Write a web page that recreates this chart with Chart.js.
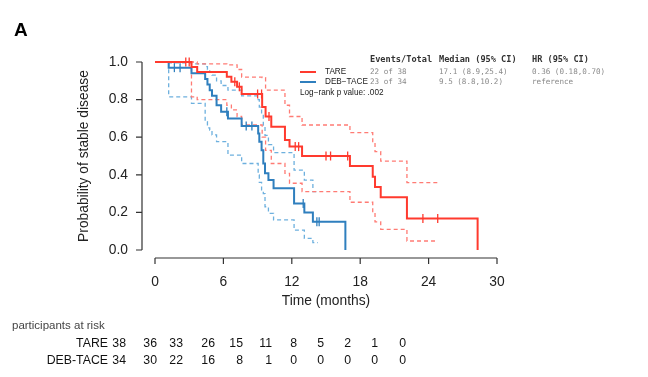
<!DOCTYPE html>
<html>
<head>
<meta charset="utf-8">
<script src="https://cdn.jsdelivr.net/npm/chart.js@4.4.1/dist/chart.umd.min.js"></script>
<style>
  html, body { margin: 0; padding: 0; background: #fff; }
  canvas { display: block; }
</style>
</head>
<body>
<canvas id="km" width="648" height="377"></canvas>
<script>
// Kaplan-Meier estimates (time in months)
const tareTime = [0, 3.2, 3.7, 6.3, 6.7, 7.2, 7.6, 9.4, 9.7, 10.2, 11.4, 11.8, 12.9, 17.1, 19.1, 19.3, 19.8, 22.1, 28.3];
const tareSurv = [1, 0.974, 0.947, 0.921, 0.895, 0.868, 0.83, 0.76, 0.71, 0.655, 0.585, 0.55, 0.5, 0.447, 0.39, 0.335, 0.28, 0.167, 0];
const tareCiTime = [0, 3.2, 3.7, 6.3, 6.7, 7.2, 7.6, 9.4, 9.7, 10.2, 11.4, 11.8, 12.9, 17.1, 19.1, 19.3, 19.8, 22.1, 24.8];
const tareUpper = [1, 1, 0.99, 0.985, 0.985, 0.96, 0.92, 0.917, 0.85, 0.85, 0.77, 0.71, 0.665, 0.624, 0.576, 0.523, 0.473, 0.358, 0.358];
const tareLower = [1, 0.815, 0.80, 0.77, 0.745, 0.71, 0.665, 0.60, 0.53, 0.46, 0.408, 0.355, 0.31, 0.254, 0.204, 0.15, 0.11, 0.048, 0.048];
const tareCensor = [2.7, 3.0, 7.0, 7.4, 9.0, 9.35, 10.0, 12.3, 12.6, 15.0, 15.4, 16.9, 23.5, 24.8];

const debTime = [0, 1.2, 3.2, 4.4, 4.6, 4.8, 5.0, 5.4, 5.8, 6.4, 7.6, 9.05, 9.15, 9.35, 9.5, 9.65, 9.95, 10.4, 12.2, 13.1, 13.85, 16.7];
const debSurv = [1, 0.97, 0.94, 0.91, 0.88, 0.85, 0.82, 0.77, 0.735, 0.70, 0.66, 0.62, 0.576, 0.53, 0.46, 0.408, 0.372, 0.328, 0.248, 0.2, 0.15, 0];
const debCiTime = [0, 1.2, 3.2, 4.4, 4.6, 4.8, 5.0, 5.4, 5.8, 6.4, 7.6, 9.05, 9.15, 9.35, 9.5, 9.65, 9.95, 10.4, 12.2, 13.1, 13.85, 14.3];
const debUpper = [1, 0.995, 0.99, 0.975, 0.96, 0.945, 0.93, 0.9, 0.875, 0.85, 0.82, 0.80, 0.76, 0.72, 0.66, 0.61, 0.56, 0.518, 0.425, 0.372, 0.31, 0.31];
const debLower = [1, 0.815, 0.78, 0.683, 0.65, 0.638, 0.612, 0.576, 0.576, 0.505, 0.46, 0.40, 0.36, 0.32, 0.30, 0.23, 0.195, 0.16, 0.106, 0.062, 0.039, 0.039];
const debCensor = [1.7, 2.2, 6.3, 8.0, 8.5, 13.0, 14.2, 14.4];

const xTicks = [0, 6, 12, 18, 24, 30];
const yTicks = [0, 0.2, 0.4, 0.6, 0.8, 1.0];

const riskTimes = [0, 3, 6, 9, 12, 15, 18, 21, 24, 27, 30];
const riskTare = [38, 36, 33, 26, 15, 11, 8, 5, 2, 1, 0];
const riskDeb = [34, 30, 22, 16, 8, 1, 0, 0, 0, 0, 0];

// right edge of each at-risk column, as typeset in the figure
const riskColX = [126, 157, 183, 215, 243, 272, 297, 324, 351, 378, 406];

const RED = '#ff3a2e';
const RED_CI = '#ff7b74';
const BLUE = '#2f7fbe';
const BLUE_CI = '#6db0de';

function pts(t, s) {
  return t.map((v, i) => ({ x: v, y: s[i] }));
}

function stepAt(t, s, x) {
  let v = s[0];
  for (let i = 0; i < t.length; i++) {
    if (t[i] <= x) v = s[i];
  }
  return v;
}

function censorPts(c, t, s) {
  return c.map(x => ({ x: x, y: stepAt(t, s, x) }));
}

function stepLine(data, color, width, dash, order) {
  return {
    type: 'line',
    data: data,
    borderColor: color,
    borderWidth: width,
    borderDash: dash,
    stepped: true,
    pointRadius: 0,
    fill: false,
    clip: false,
    order: order
  };
}

function censorSet(data, color) {
  return {
    type: 'scatter',
    data: data,
    pointStyle: 'line',
    rotation: 90,
    pointRadius: 4.5,
    borderColor: color,
    borderWidth: 1.3,
    clip: false,
    order: 0
  };
}

const decor = {
  id: 'decor',
  afterDraw(chart) {
    const ctx = chart.ctx;
    const xs = chart.scales.x;
    const ys = chart.scales.y;
    const axX = xs.left - 13;
    const axY = ys.bottom + 8;
    ctx.save();

    // R style axes
    ctx.strokeStyle = '#333';
    ctx.lineWidth = 1.2;
    ctx.beginPath();
    ctx.moveTo(axX, ys.getPixelForValue(0));
    ctx.lineTo(axX, ys.getPixelForValue(1));
    ctx.moveTo(xs.getPixelForValue(0), axY);
    ctx.lineTo(xs.getPixelForValue(30), axY);
    yTicks.forEach(v => {
      const y = ys.getPixelForValue(v);
      ctx.moveTo(axX, y);
      ctx.lineTo(axX - 6, y);
    });
    xTicks.forEach(v => {
      const x = xs.getPixelForValue(v);
      ctx.moveTo(x, axY);
      ctx.lineTo(x, axY + 6);
    });
    ctx.stroke();

    ctx.fillStyle = '#222';
    ctx.font = "13.8px 'Liberation Sans', Arial, sans-serif";
    ctx.textAlign = 'right';
    ctx.textBaseline = 'middle';
    yTicks.forEach(v => ctx.fillText(v.toFixed(1), axX - 14, ys.getPixelForValue(v)));
    ctx.textAlign = 'center';
    xTicks.forEach(v => ctx.fillText(String(v), xs.getPixelForValue(v), axY + 24));
    ctx.fillText('Time (months)', (xs.left + xs.right) / 2, axY + 43);

    ctx.save();
    ctx.translate(84, (ys.top + ys.bottom) / 2);
    ctx.rotate(-Math.PI / 2);
    ctx.fillText('Probability of stable disease', 0, 0);
    ctx.restore();

    // panel letter
    ctx.font = "bold 19px 'Liberation Sans', Arial, sans-serif";
    ctx.textAlign = 'left';
    ctx.fillStyle = '#000';
    ctx.fillText('A', 14, 31);

    // legend inside the plot
    ctx.lineWidth = 2;
    ctx.setLineDash([]);
    ctx.strokeStyle = RED;
    ctx.beginPath(); ctx.moveTo(300, 72); ctx.lineTo(316, 72); ctx.stroke();
    ctx.strokeStyle = BLUE;
    ctx.beginPath(); ctx.moveTo(300, 82); ctx.lineTo(316, 82); ctx.stroke();
    ctx.fillStyle = '#222';
    ctx.font = "8.2px 'Liberation Sans', Arial, sans-serif";
    ctx.fillText('TARE', 325, 72);
    ctx.fillText('DEB\u2212TACE', 325, 82);
    ctx.fillText('Log\u2212rank p value: .002', 300, 93);

    // summary table
    ctx.font = "bold 8.6px 'DejaVu Sans Mono', monospace";
    ctx.fillStyle = '#333';
    ctx.fillText('Events/Total', 370, 60);
    ctx.fillText('Median (95% CI)', 439, 60);
    ctx.fillText('HR (95% CI)', 532, 60);
    ctx.font = "7.6px 'DejaVu Sans Mono', monospace";
    ctx.fillStyle = '#8a8a8a';
    ctx.fillText('22 of 38', 370, 72);
    ctx.fillText('17.1 (8.9,25.4)', 439, 72);
    ctx.fillText('0.36 (0.18,0.70)', 532, 72);
    ctx.fillText('23 of 34', 370, 82);
    ctx.fillText('9.5 (8.8,10.2)', 439, 82);
    ctx.fillText('reference', 532, 82);

    // numbers at risk
    ctx.fillStyle = '#444';
    ctx.font = "11.5px 'Liberation Sans', sans-serif";
    ctx.textAlign = 'left';
    ctx.fillText('participants at risk', 12, 326);
    ctx.fillStyle = '#111';
    ctx.font = "12.3px 'Liberation Sans', sans-serif";
    ctx.textAlign = 'right';
    ctx.fillText('TARE', 108, 344);
    ctx.fillText('DEB-TACE', 108, 361);
    riskTimes.forEach((t, i) => {
      ctx.fillText(String(riskTare[i]), riskColX[i], 344);
      ctx.fillText(String(riskDeb[i]), riskColX[i], 361);
    });
    ctx.restore();
  }
};

const ctx = document.getElementById('km').getContext('2d');
const kmChart = new Chart(ctx, {
  type: 'line',
  data: {
    datasets: [
      censorSet(censorPts(tareCensor, tareTime, tareSurv), RED),
      censorSet(censorPts(debCensor, debTime, debSurv), BLUE),
      stepLine(pts(tareTime, tareSurv), RED, 2, [], 1),
      stepLine(pts(debTime, debSurv), BLUE, 2, [], 2),
      stepLine(pts(tareCiTime, tareUpper), RED_CI, 1.3, [4, 3], 3),
      stepLine(pts(tareCiTime, tareLower), RED_CI, 1.3, [4, 3], 3),
      stepLine(pts(debCiTime, debUpper), BLUE_CI, 1.3, [4, 3], 4),
      stepLine(pts(debCiTime, debLower), BLUE_CI, 1.3, [4, 3], 4)
    ]
  },
  options: {
    responsive: false,
    animation: false,
    layout: { padding: { left: 155, right: 151, top: 62, bottom: 127 } },
    scales: {
      x: { type: 'linear', min: 0, max: 30, display: false },
      y: { type: 'linear', min: 0, max: 1, display: false }
    },
    plugins: {
      legend: { display: false },
      tooltip: { enabled: false }
    }
  },
  plugins: [decor]
});
</script>
</body>
</html>
